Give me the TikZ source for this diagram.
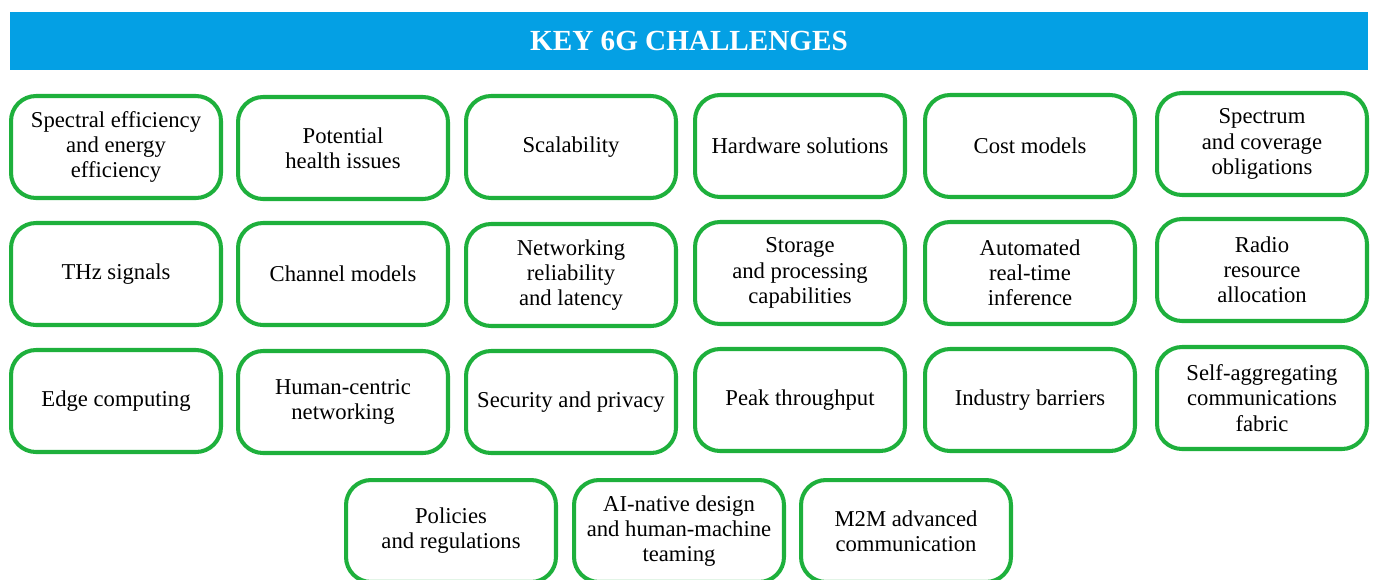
\documentclass[tikz,border=0pt]{standalone}
\usepackage{fontspec}
\setmainfont{Liberation Serif}
\usepackage{xcolor}
\usetikzlibrary{positioning}

\definecolor{bannerblue}{RGB}{4,160,228}
\definecolor{boxgreen}{RGB}{30,176,60}

\tikzset{
    challenge/.style={draw=boxgreen, line width=2.3pt, fill=white, rounded corners=0.5cm,
        minimum width=4.2cm, minimum height=2.04cm, align=center, inner sep=2pt,
        font=\fontsize{12.9}{14.3}\selectfont},
    banner/.style={fill=bannerblue, text=white, minimum width=27.16cm, minimum height=1.16cm,
        inner sep=0pt, font=\fontsize{16.6}{20}\selectfont\bfseries}
}

\begin{document}
\begin{tikzpicture}[x=0.02cm, y=-0.02cm]
    % Frame
    \useasboundingbox (0,0) rectangle (1373,579);
    \clip (0,0) rectangle (1373,579);

    % Title
    \node[banner] (title) at (689,41) {KEY 6G CHALLENGES};

    % Row 1
    \foreach \name/\x/\y/\txt in {
        spectral/116/147/{Spectral efficiency\\and energy\\efficiency},
        health/343/148/{Potential\\health issues},
        scal/571/147/{Scalability},
        hardware/800/146/{Hardware solutions},
        cost/1030/146/{Cost models},
        spectrum/1262/144/{Spectrum\\and coverage\\obligations}} {
        \node[challenge] (\name) at (\x,\y) {\txt};
    }

    % Row 2
    \foreach \name/\x/\y/\txt in {
        thz/116/274/{THz signals},
        channel/343/274/{Channel models},
        netrel/571/275/{Networking\\reliability\\and latency},
        storage/800/273/{Storage\\and processing\\capabilities},
        infer/1030/273/{Automated\\real-time\\inference},
        radio/1262/270/{Radio\\resource\\allocation}} {
        \node[challenge] (\name) at (\x,\y) {\txt};
    }

    % Row 3
    \foreach \name/\x/\y/\txt in {
        edge/116/401/{Edge computing},
        human/343/402/{Human-centric\\networking},
        secure/571/402/{Security and privacy},
        peak/800/400/{Peak throughput},
        industry/1030/400/{Industry barriers},
        fabric/1262/398/{Self-aggregating\\communications\\fabric}} {
        \node[challenge] (\name) at (\x,\y) {\txt};
    }

    % Row 4 (cut at the bottom edge)
    \foreach \name/\x/\y/\txt in {
        policy/451/531/{Policies\\and regulations},
        ainative/679/531/{AI-native design\\and human-machine\\teaming},
        mtm/906/531/{M2M advanced\\communication}} {
        \node[challenge] (\name) at (\x,\y) {\txt};
    }
\end{tikzpicture}
\end{document}
